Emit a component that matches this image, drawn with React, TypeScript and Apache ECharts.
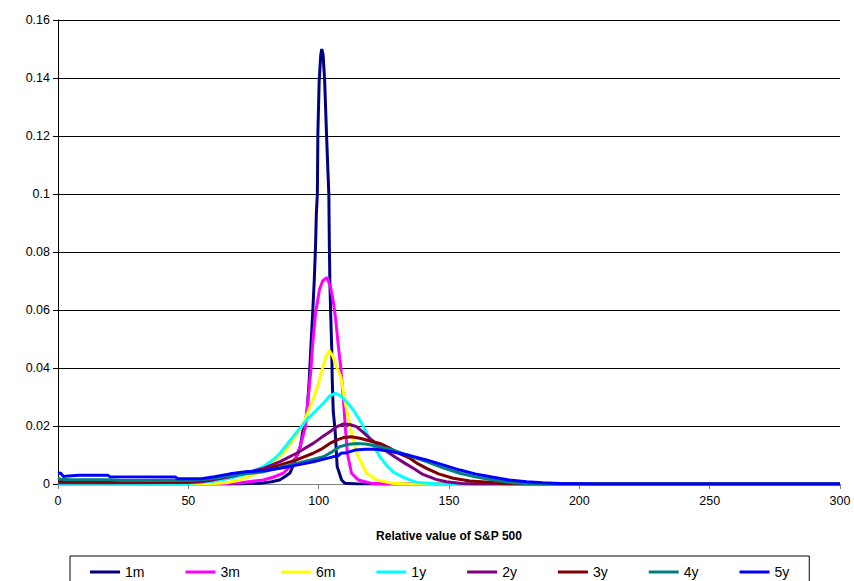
import React, { useEffect, useRef } from "react";
import * as echarts from "echarts";

const seriesNames = ["1m", "3m", "6m", "1y", "2y", "3y", "4y", "5y"];
const seriesColors = ["#000080", "#FF00FF", "#FFFF00", "#00FFFF", "#800080", "#800000", "#008080", "#0000FF"];

const xTicks = [0, 50, 100, 150, 200, 250, 300];
const yTicks = [0, 0.02, 0.04, 0.06, 0.08, 0.1, 0.12, 0.14, 0.16];

const d1m = [
  [0, 0], [70, 0], [78, 0.0003], [82, 0.0008], [85, 0.0014], [87, 0.0025], [89, 0.0038], [90, 0.006],
  [91.5, 0.0094], [93, 0.013], [94, 0.0186], [95.5, 0.0245], [96.4, 0.036], [97, 0.047], [97.7, 0.059],
  [98.3, 0.07], [98.8, 0.082], [99.1, 0.093], [99.5, 0.1], [99.7, 0.121], [100.2, 0.139], [100.8, 0.148],
  [101.2, 0.15], [101.7, 0.148], [102.3, 0.139], [103, 0.121], [103.5, 0.109], [103.9, 0.1], [104.1, 0.082],
  [104.3, 0.07], [104.6, 0.059], [105, 0.047], [105.2, 0.036], [105.6, 0.025], [106.3, 0.0186],
  [107.1, 0.006], [108.8, 0.0014], [110, 0.0003], [115, 0], [300, 0],
];

const d3m = [
  [0, 0], [60, 0], [70, 0.0004], [78.8, 0.0014], [83, 0.0025], [86.4, 0.0037], [89, 0.006], [92.2, 0.0106],
  [95, 0.02], [96, 0.03], [97, 0.039], [97.6, 0.047], [98.8, 0.059], [100.3, 0.067], [101.5, 0.07],
  [103.2, 0.0712], [104.5, 0.068], [105.6, 0.063], [106.5, 0.057], [107.5, 0.048], [108.5, 0.04],
  [109.4, 0.03], [110.2, 0.02], [111, 0.0106], [112.6, 0.0037], [115.2, 0.0014], [120, 0.0003], [125, 0], [300, 0],
];

const d6m = [
  [0, 0], [58, 0], [65, 0.0005], [69.8, 0.0014], [76.2, 0.0037], [81, 0.0065], [86.4, 0.0106], [90, 0.015],
  [93.5, 0.0198], [96, 0.025], [98.2, 0.0301], [100, 0.035], [101.4, 0.0397], [102.8, 0.044], [104.1, 0.046],
  [105.5, 0.044], [107, 0.04], [108.5, 0.037], [110, 0.029], [112, 0.0198], [114.6, 0.0106], [118.4, 0.0037],
  [122.3, 0.0014], [128, 0.0003], [135, 0], [300, 0],
];

const d1y = [
  [0, 0.0001], [50, 0.0002], [55, 0.0006], [60, 0.001], [66, 0.002], [71, 0.0031], [75, 0.0045], [78.8, 0.006],
  [82, 0.008], [85.2, 0.0106], [88, 0.0138], [91.5, 0.0178], [95.4, 0.0221], [99.2, 0.0255], [102, 0.028],
  [104, 0.0302], [106.3, 0.0313], [108, 0.0306], [109.4, 0.0295], [111.5, 0.0275], [113.3, 0.0255],
  [116.5, 0.0209], [119.7, 0.0152], [123.5, 0.0094], [126, 0.0065], [128.6, 0.0042], [132, 0.0025],
  [135, 0.0014], [138, 0.0005], [145, 0.0001], [150, 0], [300, 0],
];

const d2y = [
  [0, 0.0004], [20, 0.0004], [50, 0.0005], [55, 0.0008], [60, 0.0015], [66, 0.0025], [72, 0.0038],
  [78.8, 0.0054], [85.2, 0.0077], [91.5, 0.0106], [97.9, 0.014], [101, 0.016], [104.3, 0.018], [107, 0.0198],
  [109.5, 0.0207], [112, 0.0205], [114.5, 0.0198], [117.1, 0.0178], [120, 0.0155], [123.5, 0.0129],
  [126, 0.0113], [129.9, 0.009], [133, 0.0072], [136.3, 0.0054], [140, 0.0033], [145, 0.0016], [149, 0.0008],
  [155, 0.0002], [160, 0], [300, 0],
];

const d3y = [
  [0, 0.001], [5, 0.0009], [20, 0.0008], [50, 0.0009], [55, 0.0012], [60, 0.002], [66, 0.0031], [72, 0.004],
  [78.8, 0.0048], [85, 0.0065], [91.5, 0.0083], [97.9, 0.0106], [101, 0.012], [104.3, 0.014], [107, 0.0152],
  [109.5, 0.016], [112.5, 0.0163], [115.8, 0.0158], [119, 0.015], [123.5, 0.014], [127, 0.0125], [131, 0.0105],
  [135, 0.0089], [138, 0.007], [141.4, 0.0054], [146, 0.0035], [151.6, 0.002], [158, 0.001], [167, 0.0005],
  [172, 0.0001], [180, 0], [300, 0],
];

const d4y = [
  [0, 0.002], [1, 0.0016], [5, 0.0015], [20, 0.0015], [25, 0.0012], [50, 0.0012], [55, 0.0015], [60, 0.002],
  [66, 0.0028], [72, 0.0035], [78.8, 0.0042], [85, 0.0056], [91.5, 0.0071], [97, 0.0083], [101.8, 0.0094],
  [105, 0.011], [108.2, 0.0129], [111, 0.0136], [114.6, 0.014], [118, 0.0138], [121, 0.0133], [125, 0.0125],
  [128.6, 0.0117], [133, 0.0103], [137, 0.009], [141.4, 0.0077], [148, 0.0055], [154.2, 0.0037], [160, 0.0025],
  [167, 0.0014], [173.4, 0.0005], [180, 0.0001], [185, 0], [300, 0],
];

const d5y = [
  [0, 0.0036], [1, 0.0038], [2, 0.0026], [4, 0.0028], [8, 0.003], [19, 0.003], [20, 0.0025], [45, 0.0024],
  [46, 0.0018], [55, 0.0018], [60, 0.0025], [66, 0.0035], [72, 0.0042], [78.8, 0.0046], [85.2, 0.0054],
  [91.5, 0.0065], [97.9, 0.0077], [104.3, 0.0091], [107.5, 0.0098], [108.5, 0.0106], [110.7, 0.0108],
  [114, 0.0117], [118, 0.012], [122, 0.012], [126, 0.0115], [130, 0.0108], [135, 0.0098], [141.4, 0.0083],
  [148, 0.0065], [154.2, 0.0048], [160, 0.0035], [167, 0.0023], [173, 0.0014], [179.8, 0.0008], [186, 0.0004],
  [192.6, 0.0002], [200, 0.0001], [205, 0], [300, 0],
];

const seriesData = [d1m, d3m, d6m, d1y, d2y, d3y, d4y, d5y];

const FONT = "'Liberation Sans', Arial, sans-serif";

export default function App() {
  const ref = useRef<HTMLDivElement>(null);
  useEffect(() => {
    if (!ref.current) return;
    const chart = echarts.init(ref.current, null, { renderer: "svg" });
    chart.setOption({
      animation: false,
      backgroundColor: "#fff",
      textStyle: { fontFamily: FONT },
      grid: { left: 58, right: 14, top: 20, bottom: 97, containLabel: false },
      legend: {
        data: seriesNames,
        left: 70,
        top: 556,
        padding: [9, 20, 9, 20],
        itemWidth: 30,
        itemHeight: 3,
        itemGap: 41,
        icon: "rect",
        borderColor: "#000",
        borderWidth: 1,
        textStyle: { fontSize: 14, color: "#000", fontFamily: FONT },
      },
      xAxis: {
        type: "value",
        min: xTicks[0],
        max: xTicks[xTicks.length - 1],
        interval: 50,
        name: "Relative value of S&P 500",
        nameLocation: "middle",
        nameGap: 46,
        nameTextStyle: { fontSize: 12, fontWeight: "bold", color: "#000", fontFamily: FONT },
        axisLine: { show: true, lineStyle: { color: "#808080", width: 1 } },
        axisTick: { show: true, length: 5, inside: false, lineStyle: { color: "#808080" } },
        axisLabel: { fontSize: 12.5, color: "#000", margin: 10, fontFamily: FONT },
        splitLine: { show: false },
      },
      yAxis: {
        type: "value",
        min: yTicks[0],
        max: yTicks[yTicks.length - 1],
        interval: 0.02,
        axisLine: { show: true, lineStyle: { color: "#000", width: 1 } },
        axisTick: { show: true, length: 5, inside: false, lineStyle: { color: "#000" } },
        axisLabel: { fontSize: 12.5, color: "#000", margin: 8, fontFamily: FONT },
        splitLine: { show: true, lineStyle: { color: "#000", width: 1 } },
      },
      series: seriesNames.map((name, i) => ({
        name,
        type: "line",
        data: seriesData[i],
        symbol: "none",
        showSymbol: false,
        smooth: false,
        lineStyle: { color: seriesColors[i], width: 3 },
        itemStyle: { color: seriesColors[i] },
        z: 2 + i,
      })),
    });
    return () => chart.dispose();
  }, []);
  return <div ref={ref} style={{ width: 854, height: 581, position: "absolute", left: 0, top: 0 }} />;
}
